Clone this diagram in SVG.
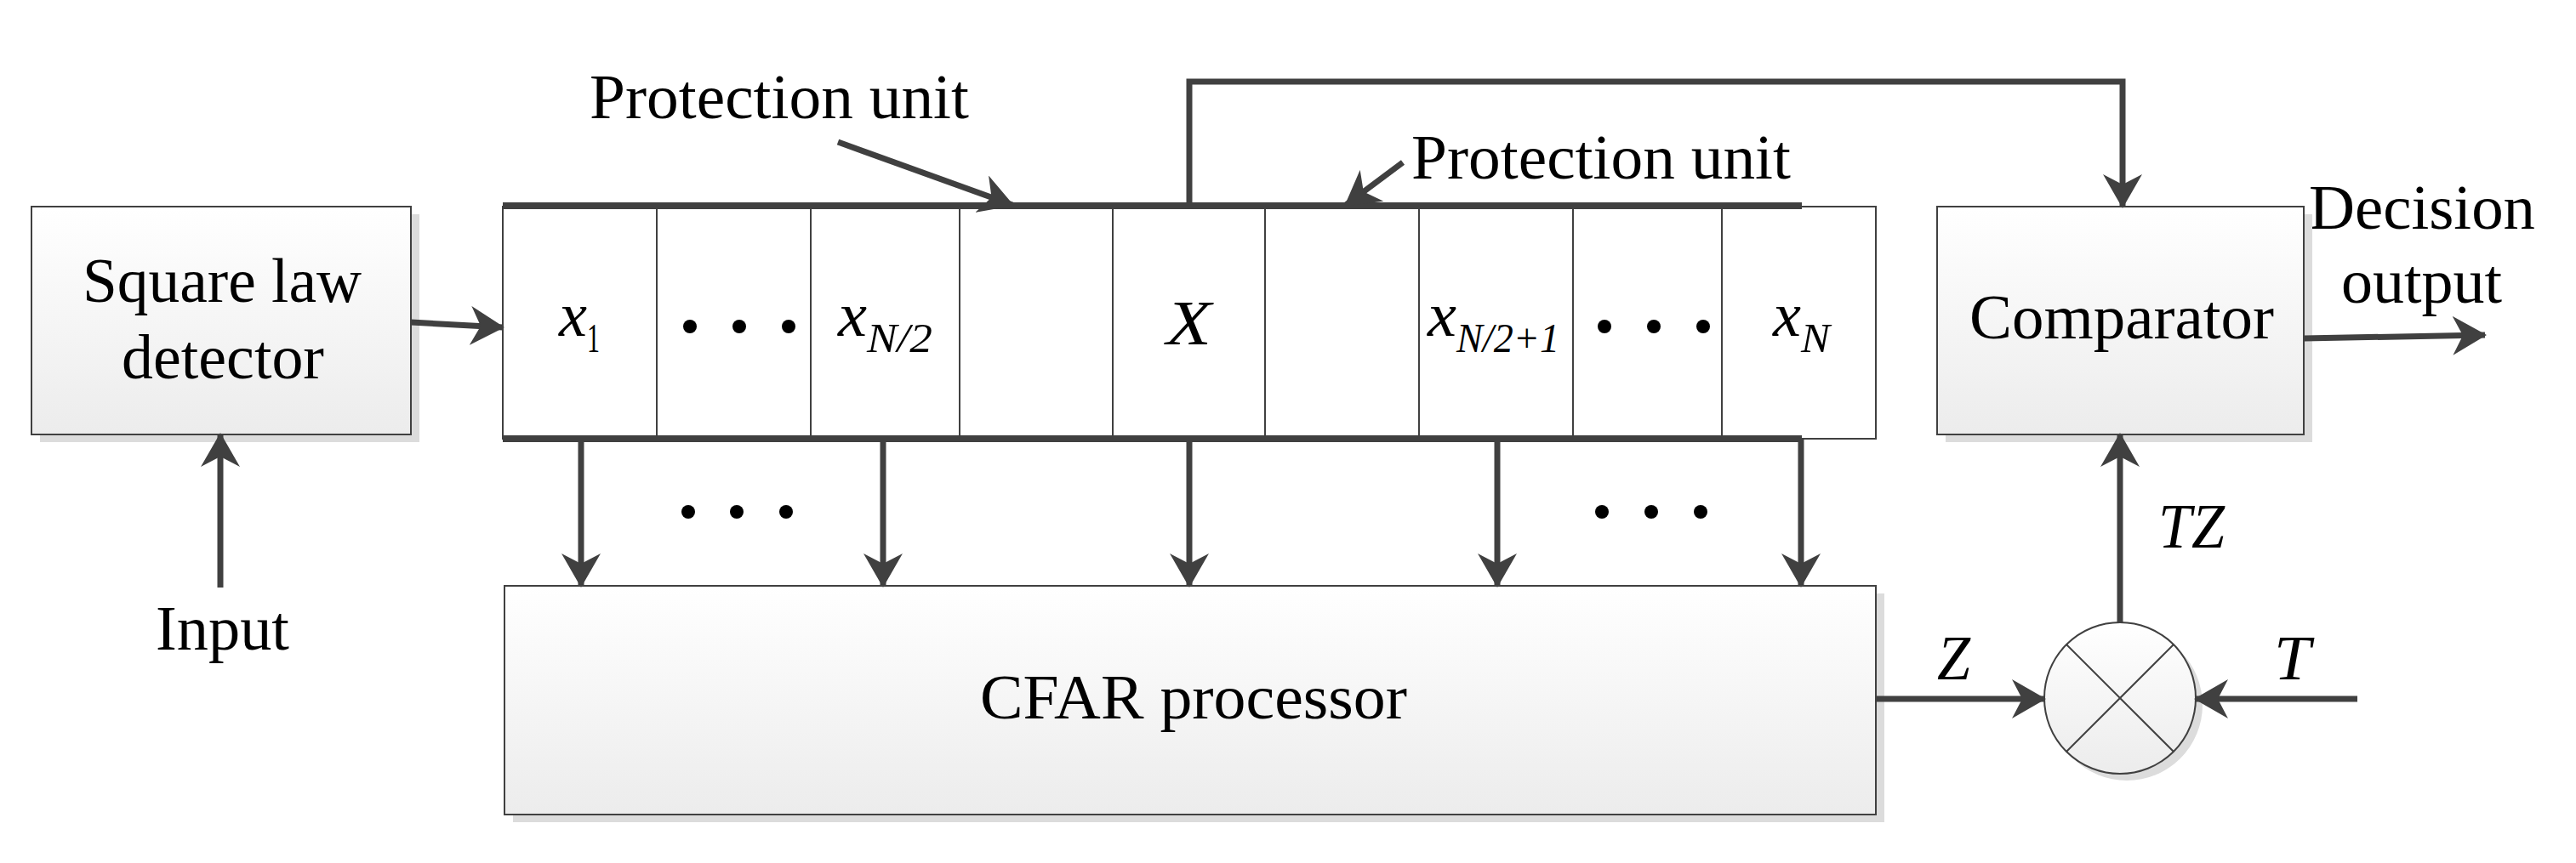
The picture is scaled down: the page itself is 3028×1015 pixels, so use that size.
<svg xmlns="http://www.w3.org/2000/svg" width="3028" height="1015" viewBox="0 0 3028 1015">
<defs>
<linearGradient id="g" x1="0" y1="0" x2="0" y2="1"><stop offset="0" stop-color="#ffffff"/><stop offset="1" stop-color="#ececec"/></linearGradient>
<marker id="a" viewBox="0 0 40 46" refX="38" refY="23" markerWidth="40" markerHeight="46" markerUnits="userSpaceOnUse" orient="auto"><path d="M0,0 L40,23 L0,46 L12,23 Z" fill="#404040"/></marker>
<style>
.t{font-family:"Liberation Serif",serif;font-size:75px;fill:#000}
.i{font-style:italic}
.s{font-family:"Liberation Serif",serif;font-size:48px;fill:#000}
.b{fill:url(#g);stroke:#404040;stroke-width:2}
.sh{fill:#dcdcdc}
.c{fill:#fff;stroke:#404040;stroke-width:2}
.w{stroke:#404040;stroke-width:7;fill:none}
.k{stroke:#404040;stroke-width:8;fill:none}
.d{fill:#000}
.l{stroke:#404040;stroke-width:2}
</style>
</defs>
<g id="detector">
<rect class="sh" x="47" y="252" width="446" height="268"/>
<rect class="b" x="37" y="243" width="446" height="268"/>
<text class="t" x="97" y="355" textLength="328" lengthAdjust="spacingAndGlyphs">Square law</text>
<text class="t" x="143" y="445" textLength="238" lengthAdjust="spacingAndGlyphs">detector</text>
</g>
<g id="input-label"><text class="t" x="183" y="764" textLength="157" lengthAdjust="spacingAndGlyphs">Input</text></g>
<g id="cells">
<rect class="c" x="591" y="243" width="1614" height="273"/>
<line class="l" x1="772" y1="243" x2="772" y2="516"/>
<line class="l" x1="953" y1="243" x2="953" y2="516"/>
<line class="l" x1="1128" y1="243" x2="1128" y2="516"/>
<line class="l" x1="1308" y1="243" x2="1308" y2="516"/>
<line class="l" x1="1487" y1="243" x2="1487" y2="516"/>
<line class="l" x1="1668" y1="243" x2="1668" y2="516"/>
<line class="l" x1="1849" y1="243" x2="1849" y2="516"/>
<line class="l" x1="2024" y1="243" x2="2024" y2="516"/>
<line class="k" x1="591" y1="242" x2="2118" y2="242"/>
<line class="k" x1="591" y1="516" x2="2118" y2="516"/>
<text class="t i" x="657" y="395" textLength="33" lengthAdjust="spacingAndGlyphs">x</text><text class="s" x="690" y="414" textLength="15" lengthAdjust="spacingAndGlyphs">1</text>
<circle class="d" cx="811" cy="384" r="8"/><circle class="d" cx="869" cy="384" r="8"/><circle class="d" cx="927" cy="384" r="8"/>
<text class="t i" x="985" y="395" textLength="34" lengthAdjust="spacingAndGlyphs">x</text><text class="s i" x="1019" y="414" textLength="77" lengthAdjust="spacingAndGlyphs">N/2</text>
<text class="t i" x="1371" y="405" textLength="53" lengthAdjust="spacingAndGlyphs">X</text>
<text class="t i" x="1678" y="395" textLength="34" lengthAdjust="spacingAndGlyphs">x</text><text class="s i" x="1712" y="414" textLength="121" lengthAdjust="spacingAndGlyphs">N/2+1</text>
<circle class="d" cx="1886" cy="384" r="8"/><circle class="d" cx="1944" cy="384" r="8"/><circle class="d" cx="2002" cy="384" r="8"/>
<text class="t i" x="2084" y="395" textLength="33" lengthAdjust="spacingAndGlyphs">x</text><text class="s i" x="2117" y="414" textLength="34" lengthAdjust="spacingAndGlyphs">N</text>
</g>
<g id="labels">
<text class="t" x="693" y="139" textLength="446" lengthAdjust="spacingAndGlyphs">Protection unit</text>
<text class="t" x="1659" y="210" textLength="446" lengthAdjust="spacingAndGlyphs">Protection unit</text>
<circle class="d" cx="809" cy="602" r="8"/><circle class="d" cx="866" cy="602" r="8"/><circle class="d" cx="924" cy="602" r="8"/>
<circle class="d" cx="1883" cy="602" r="8"/><circle class="d" cx="1941" cy="602" r="8"/><circle class="d" cx="1999" cy="602" r="8"/>
<text class="t i" x="2537" y="644" textLength="78" lengthAdjust="spacingAndGlyphs">TZ</text>
<text class="t i" x="2277" y="799" textLength="39" lengthAdjust="spacingAndGlyphs">Z</text>
<text class="t i" x="2673" y="799" textLength="43" lengthAdjust="spacingAndGlyphs">T</text>
<text class="t" x="2714" y="269" textLength="266" lengthAdjust="spacingAndGlyphs">Decision</text>
<text class="t" x="2752" y="356" textLength="189" lengthAdjust="spacingAndGlyphs">output</text>
</g>
<g id="cfar">
<rect class="sh" x="603" y="698" width="1612" height="269"/>
<rect class="b" x="593" y="689" width="1612" height="269"/>
<text class="t" x="1152" y="845" textLength="502" lengthAdjust="spacingAndGlyphs">CFAR processor</text>
</g>
<g id="comparator">
<rect class="sh" x="2287" y="252" width="431" height="268"/>
<rect class="b" x="2277" y="243" width="431" height="268"/>
<text class="t" x="2315" y="398" textLength="358" lengthAdjust="spacingAndGlyphs">Comparator</text>
</g>
<g id="multiplier">
<circle cx="2500" cy="829" r="89" fill="#dcdcdc"/>
<circle cx="2492" cy="821" r="89" fill="url(#g)" stroke="#404040" stroke-width="2"/>
<line class="l" x1="2429" y1="758" x2="2555" y2="884"/>
<line class="l" x1="2555" y1="758" x2="2429" y2="884"/>
</g>
<g id="connectors">
<line class="w" x1="483" y1="379" x2="591" y2="385" marker-end="url(#a)"/>
<line class="w" x1="259" y1="691" x2="259" y2="511" marker-end="url(#a)"/>
<line class="w" x1="985" y1="167" x2="1190" y2="241" marker-end="url(#a)"/>
<line class="w" x1="1649" y1="191" x2="1582" y2="241" marker-end="url(#a)"/>
<polyline class="w" points="1398,242 1398,96 2495,96 2495,243" marker-end="url(#a)"/>
<line class="w" x1="683" y1="516" x2="683" y2="689" marker-end="url(#a)"/>
<line class="w" x1="1038" y1="516" x2="1038" y2="689" marker-end="url(#a)"/>
<line class="w" x1="1398" y1="516" x2="1398" y2="689" marker-end="url(#a)"/>
<line class="w" x1="1760" y1="516" x2="1760" y2="689" marker-end="url(#a)"/>
<line class="w" x1="2117" y1="516" x2="2117" y2="689" marker-end="url(#a)"/>
<line class="w" x1="2205" y1="822" x2="2403" y2="822" marker-end="url(#a)"/>
<line class="w" x1="2771" y1="822" x2="2581" y2="822" marker-end="url(#a)"/>
<line class="w" x1="2492" y1="732" x2="2492" y2="511" marker-end="url(#a)"/>
<line class="w" x1="2708" y1="398" x2="2921" y2="394" marker-end="url(#a)"/>
</g>
</svg>
